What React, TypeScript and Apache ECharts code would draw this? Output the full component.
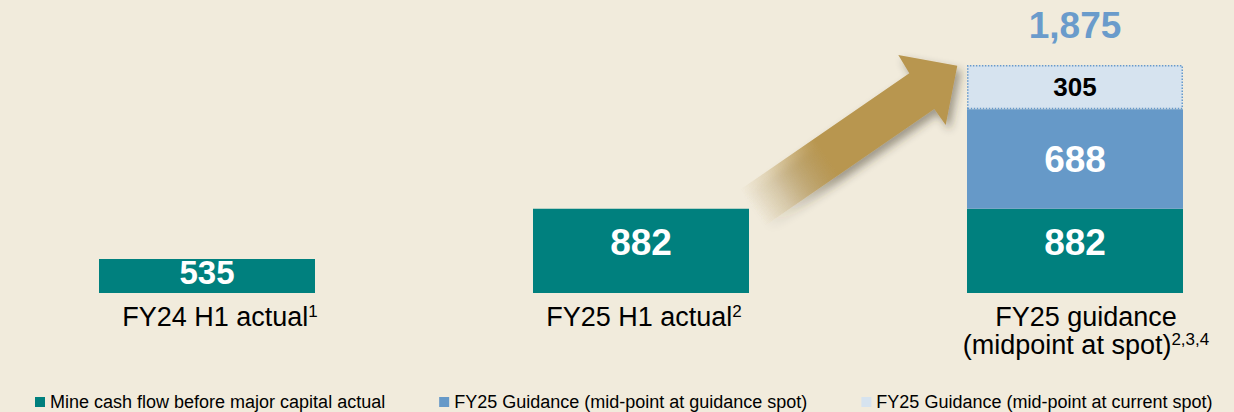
import React, { useEffect, useRef } from 'react';
import * as echarts from 'echarts';

const categories = ['FY24 H1 actual', 'FY25 H1 actual', 'FY25 guidance\n(midpoint at spot)'];
const footnotes = ['1', '2', '2,3,4'];
const seriesNames = [
  'Mine cash flow before major capital actual',
  'FY25 Guidance (mid-point at guidance spot)',
  'FY25 Guidance (mid-point at current spot)',
];
const mineCashFlow = [535, 882, 882];
const guidanceSpot: (number | null)[] = [null, null, 688];
const currentSpot: (number | null)[] = [null, null, 305];
const showTotal = [false, false, true];

const FONT = '"Liberation Sans", Arial, Helvetica, sans-serif';
const TEAL = '#00807E';
const BLUE = '#6699C8';
const LIGHT = '#D6E3EF';
const GOLD = '184,150,79';
// the chart canvas starts 10px left of the page so the three category slots line up
const SHIFT = 10;
const CHART_W = 1302;

const totalOf = (i: number) =>
  (mineCashFlow[i] || 0) + (guidanceSpot[i] || 0) + (currentSpot[i] || 0);

const tealLabel = [
  { fontSize: 33, offset: [0, -3] },
  { fontSize: 37, offset: [0, -8] },
  { fontSize: 37, offset: [0, -8] },
];
const labelPad = [26, 6, 22];

function buildOption(): any {
  const arrowPoints = [
    [740.3, 189.6],
    [909.3, 73.3],
    [898.3, 55],
    [957.3, 65.7],
    [945.7, 125],
    [934.3, 109],
    [765.3, 225.6],
  ].map(([x, y]) => [x + SHIFT, y]);
  const arrowFill = new echarts.graphic.LinearGradient(
    752.8 + SHIFT, 207.6, 957.3 + SHIFT, 65.7,
    [
      { offset: 0, color: `rgba(${GOLD},0)` },
      { offset: 0.12, color: `rgba(${GOLD},0.25)` },
      { offset: 0.36, color: `rgba(${GOLD},1)` },
      { offset: 1, color: `rgba(${GOLD},1)` },
    ],
    true
  );

  const rich: any = {
    s: { fontSize: 17, lineHeight: 22, verticalAlign: 'top', fontFamily: FONT, color: '#000' },
  };
  labelPad.forEach((p, i) => {
    rich['m' + i] = { fontSize: 27, lineHeight: 28, padding: [0, 0, 0, p], fontFamily: FONT, color: '#000' };
  });

  const valueLabelBase = {
    show: true,
    position: 'inside',
    color: '#fff',
    fontWeight: 'bold',
    fontFamily: FONT,
  };

  return {
    animation: false,
    backgroundColor: '#F1EBDC',
    grid: { left: 0, right: 0, top: 47, bottom: 119, containLabel: false },
    xAxis: {
      type: 'category',
      data: categories,
      axisLine: { show: false },
      axisTick: { show: false },
      axisLabel: {
        interval: 0,
        margin: 10,
        formatter: (value: string, index: number) => {
          const lines = value.split('\n');
          return lines
            .map((ln, li) => `{m${index}|${ln}}` + (li === lines.length - 1 ? `{s|${footnotes[index]}}` : ''))
            .join('\n');
        },
        rich,
      },
    },
    yAxis: { type: 'value', min: 300, max: 2000, show: false },
    legend: {
      data: seriesNames.map((n, i) => (i === 2 ? { name: n, itemStyle: { borderWidth: 0 } } : { name: n })),
      left: 30 + SHIFT,
      top: 388,
      icon: 'rect',
      itemWidth: 10,
      itemHeight: 10,
      itemGap: 54,
      textStyle: { fontSize: 18, color: '#000', fontFamily: FONT },
    },
    graphic: [
      {
        type: 'polygon',
        z: 0,
        shape: { points: arrowPoints },
        style: {
          fill: arrowFill,
          shadowBlur: 9,
          shadowOffsetX: 4,
          shadowOffsetY: 5,
          shadowColor: 'rgba(60,50,40,0.45)',
        },
      },
    ],
    series: [
      {
        name: seriesNames[0],
        type: 'bar',
        stack: 'a',
        barWidth: 216,
        itemStyle: { color: TEAL },
        data: mineCashFlow.map((v, i) => ({
          value: v,
          label: { ...valueLabelBase, ...tealLabel[i] },
        })),
      },
      {
        name: seriesNames[1],
        type: 'bar',
        stack: 'a',
        barWidth: 216,
        itemStyle: { color: BLUE },
        label: { ...valueLabelBase, fontSize: 37 },
        data: guidanceSpot.map((v) => (v == null ? '-' : v)),
      },
      {
        name: seriesNames[2],
        type: 'bar',
        stack: 'a',
        barWidth: 216,
        itemStyle: { color: LIGHT, borderColor: '#6699CC', borderWidth: 1.5, borderType: 'dotted' },
        label: { ...valueLabelBase, color: '#000', fontSize: 26 },
        data: currentSpot.map((v) => (v == null ? '-' : v)),
      },
      {
        name: 'total',
        type: 'bar',
        stack: 'a',
        barWidth: 216,
        itemStyle: { color: 'transparent' },
        label: {
          show: true,
          position: 'top',
          distance: 21,
          color: '#6A9BCB',
          fontSize: 37,
          fontWeight: 'bold',
          fontFamily: FONT,
          formatter: (p: any) => totalOf(p.dataIndex).toLocaleString('en-US'),
        },
        data: showTotal.map((s) => (s ? 0 : '-')),
      },
    ],
  };
}

export default function App() {
  const ref = useRef<HTMLDivElement>(null);
  useEffect(() => {
    const chart = echarts.init(ref.current!, undefined, { renderer: 'svg' });
    chart.setOption(buildOption());
    return () => chart.dispose();
  }, []);
  return (
    <div
      style={{
        position: 'fixed',
        left: 0,
        top: 0,
        width: 1234,
        height: 412,
        overflow: 'hidden',
        background: '#F1EBDC',
      }}
    >
      <div
        ref={ref}
        style={{ position: 'absolute', left: -SHIFT, top: 0, width: CHART_W, height: 412 }}
      />
    </div>
  );
}
